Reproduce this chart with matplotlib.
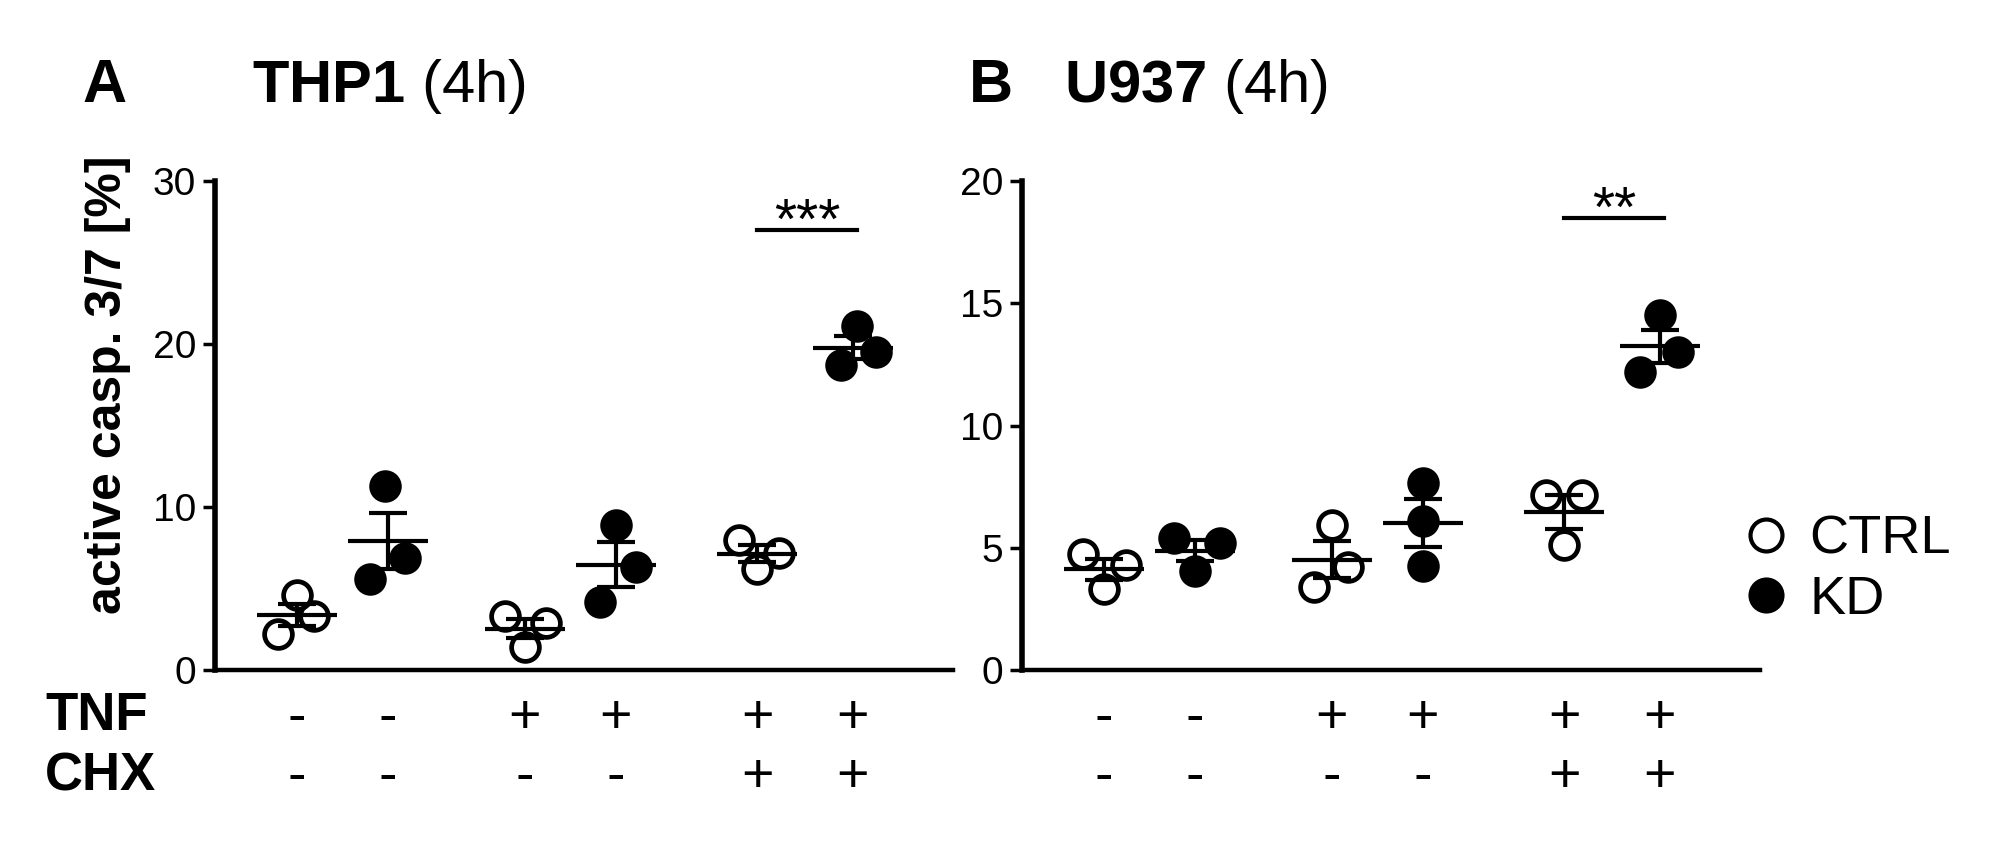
import numpy as np
import matplotlib.pyplot as plt
from matplotlib.lines import Line2D
from matplotlib.transforms import blended_transform_factory

plt.rcParams['font.family'] = ['Liberation Sans', 'DejaVu Sans']
plt.rcParams['mathtext.fontset'] = 'custom'
plt.rcParams['mathtext.rm'] = 'Liberation Sans'
plt.rcParams['mathtext.bf'] = 'Liberation Sans:bold'

# order: CTRL -/-, KD -/-, CTRL TNF, KD TNF, CTRL TNF+CHX, KD TNF+CHX
groups = ['CTRL', 'KD', 'CTRL', 'KD', 'CTRL', 'KD']
tnf = ['-', '-', '+', '+', '+', '+']
chx = ['-', '-', '-', '-', '+', '+']

# active casp. 3/7 [%], three replicates per group
thp1 = [[4.6, 3.3, 2.2], [11.3, 6.9, 5.6], [3.3, 2.9, 1.4],
        [8.9, 6.3, 4.2], [8.0, 7.2, 6.2], [21.1, 19.5, 18.7]]
u937 = [[4.75, 4.3, 3.3], [5.4, 5.2, 4.05], [5.95, 4.2, 3.4],
        [7.65, 6.1, 4.25], [7.15, 7.15, 5.1], [14.5, 13.0, 12.2]]

# horizontal scatter of the replicates (layout only)
thp1_jit = [[0, .19, -.21], [-.03, .18, -.2], [-.22, .23, 0],
            [0, .22, -.18], [-.2, .24, 0], [.04, .25, -.13]]
u937_jit = [[-.23, .24, 0], [-.23, .27, 0], [0, .18, -.2],
            [0, 0, 0], [-.2, .2, 0], [0, .2, -.22]]

pos = [1, 2, 3.5, 4.5, 6.05, 7.1]

fig = plt.figure(figsize=(19.91, 8.51), dpi=100)
ax_a = fig.add_axes([0.108, 0.2127, 0.3707, 0.5746])
ax_b = fig.add_axes([0.5133, 0.2127, 0.3707, 0.5746])


def draw(ax, data, jit, ymax, step, sig_y, stars):
    for i, (vals, off) in enumerate(zip(data, jit)):
        x = pos[i] + np.array(off)
        face = 'black' if groups[i] == 'KD' else 'none'
        ax.plot(x, vals, 'o', ms=20, mew=3.4, mec='black', mfc=face,
                clip_on=False, zorder=2)
        m = np.mean(vals)
        sem = np.std(vals, ddof=1) / np.sqrt(len(vals))
        ax.hlines(m, pos[i] - 0.44, pos[i] + 0.44, color='k', lw=3, zorder=3)
        ax.vlines(pos[i], m - sem, m + sem, color='k', lw=3, zorder=3)
        ax.hlines([m - sem, m + sem], pos[i] - 0.21, pos[i] + 0.21,
                  color='k', lw=3, zorder=3)
    ax.plot([pos[4], pos[5] + 0.05], [sig_y, sig_y], color='k', lw=3)
    ax.annotate(stars, ((pos[4] + pos[5] + 0.05) / 2, sig_y), xytext=(0, -6.5),
                textcoords='offset points', ha='center', va='baseline',
                fontsize=41)

    ax.set_xlim(0.1, 8.2)
    ax.set_ylim(0, ymax)
    ax.set_yticks(np.arange(0, ymax + 1, step))
    ax.set_xticks([])
    for s in ['top', 'right']:
        ax.spines[s].set_visible(False)
    ax.spines['left'].set_linewidth(4)
    ax.spines['bottom'].set_linewidth(3.2)
    ax.tick_params(axis='y', length=8.5, width=2.5, pad=5, labelsize=28)
    for lab in ax.get_yticklabels():
        lab.set_family(['Liberation Sans Narrow', 'Liberation Sans'])

    # treatment rows under the axis
    tr = blended_transform_factory(ax.transData, fig.transFigure)
    for i in range(len(pos)):
        ax.text(pos[i], 0.155, tnf[i], transform=tr, ha='center',
                va='center', fontsize=40)
        ax.text(pos[i], 0.086, chx[i], transform=tr, ha='center',
                va='center', fontsize=40)


draw(ax_a, thp1, thp1_jit, 30, 10, 27.0, '***')
draw(ax_b, u937, u937_jit, 20, 5, 18.5, '**')

# panel titles
fig.text(82 / 1991, 0.88, 'A', fontsize=44, fontweight='bold', va='baseline')
fig.text(252 / 1991, 0.88, r'$\mathbf{THP1}$ (4h)', fontsize=43, va='baseline')
fig.text(969 / 1991, 0.88, 'B', fontsize=44, fontweight='bold', va='baseline')
fig.text(1064 / 1991, 0.88, r'$\mathbf{U937}$ (4h)', fontsize=43, va='baseline')

fig.text(108 / 1991, 0.548, 'active casp. 3/7 [%]', rotation=90,
         ha='center', va='center', fontsize=36, fontweight='bold')

fig.text(45 / 1991, 0.1587, 'TNF', fontsize=38, fontweight='bold', va='center')
fig.text(45 / 1991, 0.088, 'CHX', fontsize=38, fontweight='bold', va='center')

handles = [Line2D([], [], ls='none', marker='o', ms=23, mew=3, mec='k', mfc='none'),
           Line2D([], [], ls='none', marker='o', ms=23, mew=3, mec='k', mfc='k')]
fig.legend(handles, ['CTRL', 'KD'], loc='upper left',
           bbox_to_anchor=(1744 / 1991, 0.395), frameon=False, fontsize=39,
           handlelength=0.8, handletextpad=0.4, labelspacing=0.19,
           borderpad=0, borderaxespad=0)

fig.savefig('out.png', dpi=100)
